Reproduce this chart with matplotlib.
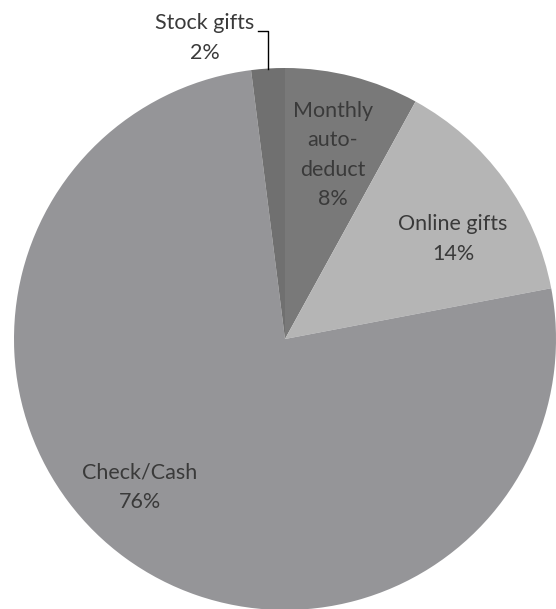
import numpy as np
import matplotlib.pyplot as plt

plt.rcParams['font.family'] = ['Lato', 'DejaVu Sans']

labels = ['Monthly\nauto-\ndeduct', 'Online gifts', 'Check/Cash', 'Stock gifts']
values = [8, 14, 76, 2]
colors = ['#797979', '#b5b5b5', '#959598', '#707070']

W, H = 556, 609
fig = plt.figure(figsize=(W / 100, H / 100), dpi=100)
ax = fig.add_axes([0, 0, 1, 1])

cx, cy, r = 285, H - 339, 271
wedges, _ = ax.pie(values, colors=colors, startangle=90, counterclock=False,
                   center=(cx, cy), radius=r, frame=True,
                   wedgeprops=dict(linewidth=0))
ax.set_xlim(0, W)
ax.set_ylim(0, H)
ax.set_aspect('equal')
ax.axis('off')

# label positions (pixel coords from top-left)
pos = [(333, 155), (453, 239), (140, 487), (205, 38)]
for lab, v, (x, y) in zip(labels, values, pos):
    ax.text(x, H - y, f"{lab}\n{v}%", ha='center', va='center',
            fontsize=15.5, color='#3a3a3a', linespacing=1.6)

# leader line for the small slice
w = wedges[3]
ang = np.deg2rad((w.theta1 + w.theta2) / 2)
ex, ey = cx + r * np.cos(ang), cy + r * np.sin(ang)
ax.plot([258, ex, ex], [H - 31, H - 31, ey], color='black', lw=1)

fig.savefig('out.png', dpi=100)
